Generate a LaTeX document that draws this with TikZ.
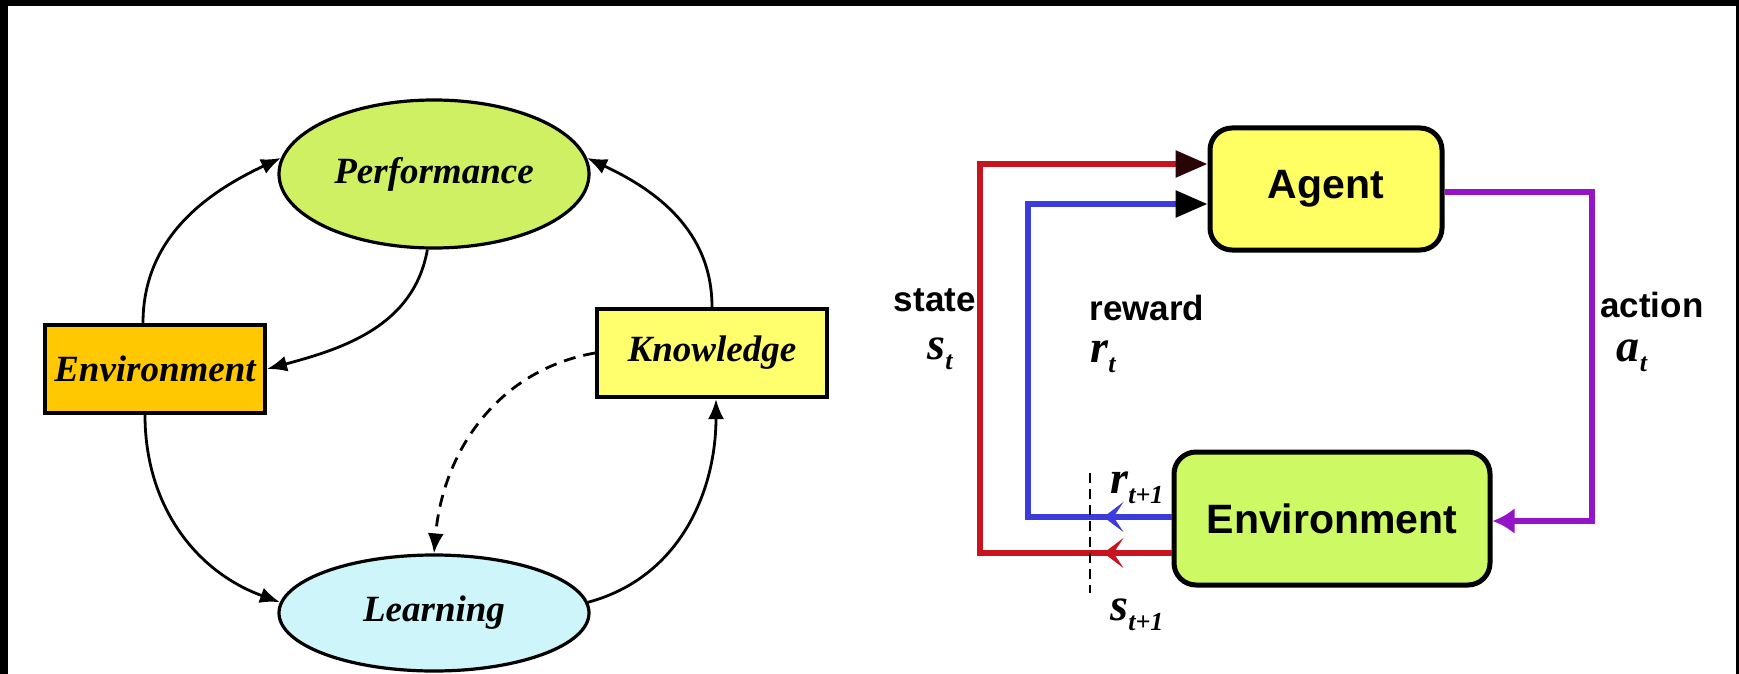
\documentclass[tikz,border=0pt]{standalone}
\usepackage{fontspec}
\setmainfont{Liberation Serif}
\setsansfont{Liberation Sans}
\usetikzlibrary{arrows.meta,shapes.geometric,decorations.markings}

\definecolor{perfgreen}{RGB}{208,240,100}
\definecolor{learncyan}{RGB}{205,245,250}
\definecolor{envgold}{RGB}{255,200,0}
\definecolor{knowyellow}{RGB}{255,255,110}
\definecolor{agentyellow}{RGB}{255,255,100}
\definecolor{envlime}{RGB}{205,250,100}
\definecolor{sigred}{RGB}{200,20,30}
\definecolor{sigblue}{RGB}{60,60,220}
\definecolor{sigpurple}{RGB}{150,20,200}

% italic symbol with a lowered index
\newcommand{\subsym}[2]{{\bfseries\itshape\fontsize{23}{24}\selectfont #1\raisebox{-5pt}{\fontsize{13}{14}\selectfont #2}}}

\begin{document}
\begin{tikzpicture}[x=0.5pt,y=0.5pt,
  cyclebox/.style={draw=black,line width=2pt,inner sep=0pt,minimum height=44pt,
    font=\fontsize{18.5}{20}\selectfont\bfseries\itshape},
  cycleoval/.style={ellipse,draw=black,line width=1.6pt,inner sep=0pt,minimum width=155pt,
    font=\fontsize{18.5}{20}\selectfont\bfseries\itshape},
  flow/.style={line width=1.4pt,-{Latex[length=10pt,width=8pt]}},
  rlbox/.style={draw=black,line width=2.5pt,rounded corners=11pt,inner sep=0pt,
    font=\sffamily\bfseries\fontsize{20.5}{22}\selectfont},
  sig/.style={line width=2.8pt},
  lbl/.style={font=\sffamily\bfseries\fontsize{17.5}{19}\selectfont,inner sep=0pt},
  midtip/.style={postaction={decorate},decoration={markings,
    mark=at position 34pt with {\arrow{Stealth[length=10pt,width=15pt,inset=5pt]}}}},
]
% frame
\fill[black] (0,0) rectangle (1739,-674);
\fill[white] (8,-6) rectangle (1736,-674);
\useasboundingbox (0,0) rectangle (1739,-674);

% ---------------- learning cycle ----------------
\node[cycleoval,fill=perfgreen,minimum height=74pt] (perf) at (434,-174) {Performance};
\node[cycleoval,fill=learncyan,minimum height=58pt] (learn) at (434,-613) {Learning};
\node[cyclebox,fill=envgold,minimum width=110pt] (envL) at (155,-369) {Environment};
\node[cyclebox,fill=knowyellow,minimum width=115pt] (know) at (712,-353) {Knowledge};

\draw[flow] ([xshift=-6pt]envL.north) to[out=90,in=205] (perf.174);
\draw[flow] (perf.265) to[out=260,in=15] (envL.east);
\draw[flow] (know.north) to[out=90,in=-25] (perf.6);
\draw[flow] ([xshift=-5pt]envL.south) to[out=-90,in=160] (learn.176);
\draw[flow] (learn.4) to[out=15,in=-90] ([xshift=2pt]know.south);
\draw[flow,dashed,dash pattern=on 6pt off 4pt] (know.west) to[out=190,in=85] (learn.north);

% ---------------- agent / environment loop ----------------
\node[rlbox,fill=agentyellow,minimum width=116pt,minimum height=61pt] (agent) at (1326,-189) {Agent};
\node[rlbox,fill=envlime,minimum width=158pt,minimum height=66.5pt] (envR) at (1332,-518.5) {Environment};

\coordinate (rbot) at (980,-553);
\coordinate (rtop) at (980,-164);
\coordinate (bbot) at (1028,-517);
\coordinate (btop) at (1028,-204);
\coordinate (ptop) at (1592,-192);
\coordinate (pbot) at (1592,-521);
\coordinate (dtop) at (1090,-473);
\coordinate (dbot) at (1090,-593);

\draw[sig,draw=sigred,midtip,color=sigred,-{Triangle[length=16pt,width=13pt,color=black!80!sigred]}]
  (rbot -| envR.west) -- (rbot) -- (rtop) -- (rtop -| agent.west);
\draw[sig,draw=sigblue,midtip,color=sigblue,-{Triangle[length=16pt,width=13pt,color=black]}]
  (bbot -| envR.west) -- (bbot) -- (btop) -- (btop -| agent.west);
\draw[sig,draw=sigpurple,-{Latex[length=11pt,width=13pt,color=sigpurple]}]
  (ptop -| agent.east) -- (ptop) -- (pbot) -- (pbot -| envR.east);

\draw[line width=1pt,dash pattern=on 5pt off 3pt] (dtop) -- (dbot);

\node[lbl,anchor=east] (statel) at (976,-300) {state};
\node (stl) at (940,-354) {\subsym{s}{t}};
\node[lbl,anchor=west] (rewardl) at (1089,-308) {reward};
\node (rtl) at (1103,-357) {\subsym{r}{t}};
\node[lbl,anchor=west] (actionl) at (1600,-305) {action};
\node (acl) at (1632,-356) {\subsym{a}{t}};
\node (rnext) at (1137,-488) {\subsym{r}{t+1}};
\node (snext) at (1137,-615) {\subsym{s}{t+1}};
\end{tikzpicture}
\end{document}
